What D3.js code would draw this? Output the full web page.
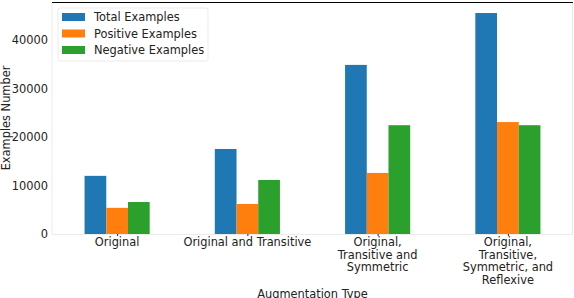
<!DOCTYPE html>
<html>
<head>
<meta charset="utf-8">
<script src="https://cdn.jsdelivr.net/npm/d3@7.9.0/dist/d3.min.js"></script>
<style>
  body { margin: 0; background: #fff; }
  svg { display: block; font-family: "DejaVu Sans", sans-serif; }
</style>
</head>
<body>
<svg id="chart" width="574" height="298"></svg>
<script>
// ── data ─────────────────────────────────────────────────────
const categories = [
  ['Original'],
  ['Original and Transitive'],
  ['Original,', 'Transitive and', 'Symmetric'],
  ['Original,', 'Transitive,', 'Symmetric, and', 'Reflexive']
];
const seriesNames = ['Total Examples', 'Positive Examples', 'Negative Examples'];
const totalValues    = [12000, 17550, 34900, 45600];
const positiveValues = [5400, 6200, 12600, 23100];
const negativeValues = [6600, 11150, 22450, 22450];
const yTicks = [0, 10000, 20000, 30000, 40000];
const colors = ['#1f77b4', '#ff7f0e', '#2ca02c'];

const series = [totalValues, positiveValues, negativeValues];

// ── layout ───────────────────────────────────────────────────
const width = 574, height = 298;
const margin = { top: 2, right: 1, bottom: 64, left: 52 };
const fs = '11.4px';
const svg = d3.select('#chart');

const x = d3.scaleLinear()
  .domain([-0.5, categories.length - 0.5])
  .range([margin.left, width - margin.right]);

const yMax = d3.max(series.flat()) * 1.05;
const y = d3.scaleLinear()
  .domain([0, yMax])
  .range([height - margin.bottom, margin.top]);

const barW = 0.5 / series.length;   // pandas default bar width 0.5

// bars
series.forEach((vals, si) => {
  svg.append('g')
    .selectAll('rect')
    .data(vals)
    .join('rect')
      .attr('x', (d, i) => x(i - 0.25 + si * barW))
      .attr('width', x(barW) - x(0))
      .attr('y', d => y(d))
      .attr('height', d => y(0) - y(d))
      .attr('fill', colors[si]);
});

// spines
const x0 = margin.left, x1 = width - margin.right;
const y0 = height - margin.bottom, y1 = margin.top;
svg.append('line').attr('x1', x0).attr('x2', x0).attr('y1', y1).attr('y2', y0)
  .attr('stroke', '#ebebeb');
svg.append('line').attr('x1', x1 - 0.5).attr('x2', x1 - 0.5).attr('y1', y1).attr('y2', y0)
  .attr('stroke', '#ebebeb');
svg.append('line').attr('x1', x0).attr('x2', x1).attr('y1', y0 + 0.5).attr('y2', y0 + 0.5)
  .attr('stroke', '#ebebeb');
svg.append('line').attr('x1', x0).attr('x2', x1).attr('y1', y1 + 0.5).attr('y2', y1 + 0.5)
  .attr('stroke', '#000').attr('stroke-width', 1.2);

// y axis
const yAxis = svg.append('g')
  .attr('transform', `translate(${x0},0)`)
  .call(d3.axisLeft(y).tickValues(yTicks).tickSize(0).tickPadding(4).tickFormat(d3.format('d')));
yAxis.select('.domain').remove();
yAxis.selectAll('text').attr('font-size', fs).attr('fill', '#222')
  .attr('font-family', 'DejaVu Sans');

// x axis: short ticks + multi-line labels
const xAxis = svg.append('g')
  .attr('transform', `translate(0,${y0})`)
  .call(d3.axisBottom(x).tickValues(d3.range(categories.length)).tickSize(2).tickFormat(''));
xAxis.select('.domain').remove();
xAxis.selectAll('.tick line').attr('stroke', '#222');

const xLabels = svg.append('g');
categories.forEach((lines, i) => {
  const t = xLabels.append('text')
    .attr('x', x(i))
    .attr('y', y0 + 12)
    .attr('text-anchor', 'middle')
    .attr('font-size', fs)
    .attr('fill', '#222');
  lines.forEach((ln, j) => {
    t.append('tspan').attr('x', x(i)).attr('dy', j === 0 ? 0 : 12.6).text(ln);
  });
});

// axis titles
svg.append('text')
  .attr('x', (x0 + x1) / 2).attr('y', 298)
  .attr('text-anchor', 'middle').attr('font-size', fs).attr('fill', '#222')
  .text('Augmentation Type');
svg.append('text')
  .attr('transform', `translate(10,${(y0 + y1) / 2}) rotate(-90)`)
  .attr('text-anchor', 'middle').attr('font-size', fs).attr('fill', '#222')
  .text('Examples Number');

// legend
const legend = svg.append('g').attr('transform', 'translate(58,8)');
legend.append('rect')
  .attr('width', 150).attr('height', 53).attr('rx', 2)
  .attr('fill', '#fff').attr('fill-opacity', 0.8)
  .attr('stroke', '#e6e6e6').attr('stroke-width', 0.8);
seriesNames.forEach((name, i) => {
  const row = legend.append('g').attr('transform', `translate(0,${9 + i * 16.5})`);
  row.append('rect').attr('x', 4).attr('y', -4).attr('width', 23).attr('height', 8)
    .attr('fill', colors[i]);
  row.append('text').attr('x', 36).attr('y', 0).attr('dy', '0.35em')
    .attr('font-size', fs).attr('fill', '#222').text(name);
});
</script>
</body>
</html>
